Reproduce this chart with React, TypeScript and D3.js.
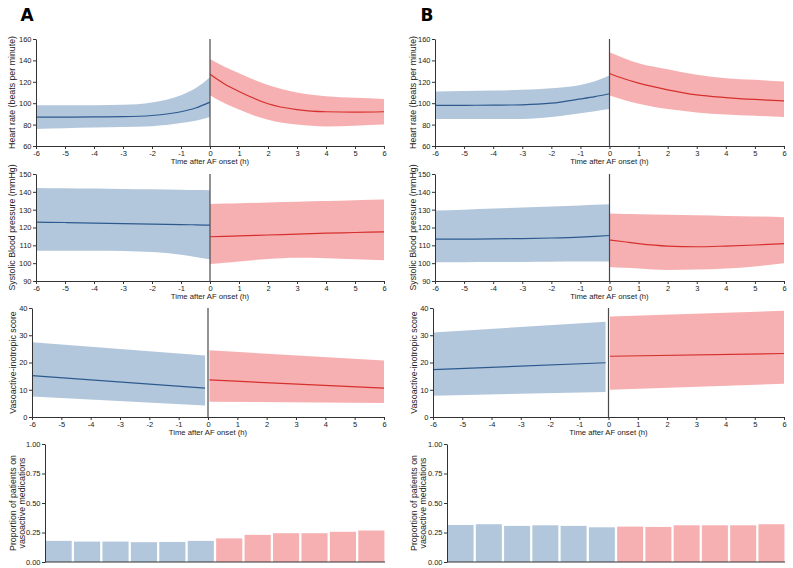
import { useEffect, useRef } from "react"
import * as d3 from "d3"

// time points (hours after AF onset)
const hoursPre = [-6, -5, -4, -3, -2, -1, -0.5, 0]
const hoursPost = [0, 0.5, 1, 2, 3, 4, 5, 6]
const visHoursPre = [-6, -0.1]
const visHoursPost = [0.05, 6]
const xTicks = [-6, -5, -4, -3, -2, -1, 0, 1, 2, 3, 4, 5, 6]

// Panel A - heart rate
const hrA_preMean = [87, 87, 87.2, 87.4, 88.5, 92, 95.5, 101]
const hrA_preLo = [76, 76.7, 77.3, 77.8, 78.5, 81.4, 83.6, 87]
const hrA_preHi = [98, 98, 98.2, 98.5, 100.7, 107.5, 114, 124.3]
const hrA_postMean = [127, 118, 111, 99.5, 94, 92, 91.7, 92]
const hrA_postLo = [107.5, 100, 94, 84.5, 80, 78.3, 79, 80]
const hrA_postHi = [141.4, 134, 128, 117, 110, 106.5, 105, 104]

// Panel A - systolic BP
const sbpA_preMean = [123, 122.8, 122.5, 122.2, 121.9, 121.6, 121.5, 121.3]
const sbpA_preLo = [107, 107, 107, 106.8, 106.2, 104.7, 103.5, 102.2]
const sbpA_preHi = [142.2, 142, 141.8, 141.6, 141.4, 141.2, 141, 140.9]
const sbpA_postMean = [114.8, 115, 115.3, 115.8, 116.3, 116.8, 117.2, 117.6]
const sbpA_postLo = [99.5, 100.2, 101, 102.3, 103, 102.8, 102.2, 101.6]
const sbpA_postHi = [133.2, 133.4, 133.6, 134, 134.4, 134.8, 135.3, 135.7]

// Panel A - vasoactive-inotropic score
const visA_preMean = [15.2, 10.6]
const visA_preLo = [7.5, 4.2]
const visA_preHi = [27.4, 22.6]
const visA_postMean = [13.6, 10.6]
const visA_postLo = [5.6, 5.1]
const visA_postHi = [24.5, 20.7]

// Panel A - proportion on vasoactive medications
const medsA = [0.179, 0.173, 0.173, 0.168, 0.17, 0.179, 0.2, 0.23, 0.244, 0.244, 0.256, 0.267]

// Panel B - heart rate
const hrB_preMean = [97.9, 98, 98.2, 98.5, 100, 104, 106.2, 108.8]
const hrB_preLo = [85.2, 85.2, 85.2, 85.2, 87, 90.7, 92.5, 94.5]
const hrB_preHi = [110.9, 111.3, 111.8, 112.5, 114, 117, 120.5, 125.8]
const hrB_postMean = [127.7, 122.8, 118.7, 112.5, 107.8, 105.3, 103.5, 102.2]
const hrB_postLo = [107.2, 103, 99.4, 94.5, 91.4, 89.5, 88.3, 87]
const hrB_postHi = [147.6, 142, 137.3, 131.7, 126.5, 123.4, 121.8, 120.2]

// Panel B - systolic BP
const sbpB_preMean = [113.5, 113.5, 113.6, 113.8, 114.1, 114.6, 115, 115.5]
const sbpB_preLo = [100.5, 100.5, 100.6, 100.7, 100.8, 100.9, 101, 101]
const sbpB_preHi = [129.5, 130, 130.6, 131.2, 131.8, 132.4, 132.7, 133]
const sbpB_postMean = [113, 112, 111, 109.6, 109.2, 109.6, 110.2, 111]
const sbpB_postLo = [97.9, 97.4, 97, 96.2, 96.4, 97, 98.2, 99.9]
const sbpB_postHi = [127.8, 127.6, 127.5, 127.1, 126.8, 126.5, 126.2, 125.8]

// Panel B - vasoactive-inotropic score
const visB_preMean = [17.4, 19.9]
const visB_preLo = [7.8, 9.2]
const visB_preHi = [31, 35]
const visB_postMean = [22.3, 23.3]
const visB_postLo = [10, 12.2]
const visB_postHi = [36.9, 39]

// Panel B - proportion on vasoactive medications
const medsB = [0.314, 0.32, 0.306, 0.311, 0.306, 0.294, 0.3, 0.297, 0.311, 0.311, 0.311, 0.32]

const barSlots = d3.range(12).map(String)

const FONT = "'Liberation Sans', Arial, sans-serif"
const BLUE_FILL = "#b3c7dc"
const BLUE_LINE = "#2c5a8e"
const RED_FILL = "#f7b0b1"
const RED_LINE = "#d5302d"
const AXIS = "#333"
const TICK_FS = 7.5
const XTITLE_FS = 7.7
const YTITLE_FS = 8.8

type Seg = { t: number[]; mean: number[]; lo: number[]; hi: number[] }

interface LinePanel {
  x: [number, number]
  y: [number, number]
  domain: [number, number]
  yTicks: number[]
  title: string
  titleX: number
  pre: Seg
  post: Seg
  curve: d3.CurveFactory
}

function styleAxis(g: d3.Selection<SVGGElement, unknown, null, undefined>) {
  g.selectAll("path, line").attr("stroke", AXIS).attr("stroke-width", 1)
  g.selectAll("text").attr("font-family", FONT).attr("font-size", TICK_FS).attr("fill", "#222")
}

function drawLinePanel(svg: d3.Selection<SVGSVGElement, unknown, null, undefined>, p: LinePanel) {
  const x = d3.scaleLinear().domain([-6, 6]).range(p.x)
  const y = d3.scaleLinear().domain(p.domain).range([p.y[1], p.y[0]])
  const g = svg.append("g")

  const segs: [Seg, string, string][] = [
    [p.pre, BLUE_FILL, BLUE_LINE],
    [p.post, RED_FILL, RED_LINE],
  ]
  segs.forEach(([s, fill, stroke]) => {
    const pts = s.t.map((t, i) => ({ t, m: s.mean[i], lo: s.lo[i], hi: s.hi[i] }))
    const area = d3
      .area<{ t: number; lo: number; hi: number }>()
      .x((d) => x(d.t))
      .y0((d) => y(d.lo))
      .y1((d) => y(d.hi))
      .curve(p.curve)
    const line = d3
      .line<{ t: number; m: number }>()
      .x((d) => x(d.t))
      .y((d) => y(d.m))
      .curve(p.curve)
    g.append("path").datum(pts).attr("d", area).attr("fill", fill)
    g.append("path").datum(pts).attr("d", line).attr("fill", "none").attr("stroke", stroke).attr("stroke-width", 1.2)
  })

  // onset marker
  g.append("line")
    .attr("x1", x(0))
    .attr("x2", x(0))
    .attr("y1", p.y[0])
    .attr("y2", p.y[1])
    .attr("stroke", "#4a4a4a")
    .attr("stroke-width", 1.2)

  const ax = g
    .append("g")
    .attr("transform", `translate(0,${p.y[1]})`)
    .call(
      d3
        .axisBottom(x)
        .tickValues(xTicks)
        .tickSize(3)
        .tickPadding(1.5)
        .tickSizeOuter(0)
        .tickFormat((d) => String(d))
    )
  styleAxis(ax)

  const ay = g
    .append("g")
    .attr("transform", `translate(${p.x[0]},0)`)
    .call(d3.axisLeft(y).tickValues(p.yTicks).tickSize(3).tickPadding(1.5).tickSizeOuter(0))
  styleAxis(ay)

  g.append("text")
    .attr("x", (p.x[0] + p.x[1]) / 2)
    .attr("y", p.y[1] + 17.5)
    .attr("text-anchor", "middle")
    .attr("font-family", FONT)
    .attr("font-size", XTITLE_FS)
    .attr("fill", "#222")
    .text("Time after AF onset (h)")

  g.append("text")
    .attr("transform", `translate(${p.titleX},${(p.y[0] + p.y[1]) / 2}) rotate(-90)`)
    .attr("text-anchor", "middle")
    .attr("dy", "0.35em")
    .attr("font-family", FONT)
    .attr("font-size", YTITLE_FS)
    .attr("fill", "#222")
    .text(p.title)
}

function drawBars(
  svg: d3.Selection<SVGSVGElement, unknown, null, undefined>,
  values: number[],
  xr: [number, number],
  yr: [number, number],
  titleX: [number, number]
) {
  const x = d3.scaleBand().domain(barSlots).range(xr).paddingInner(0.08).paddingOuter(0.02)
  const y = d3.scaleLinear().domain([0, 1]).range([yr[1], yr[0]])
  const g = svg.append("g")
  g.selectAll("rect")
    .data(values)
    .enter()
    .append("rect")
    .attr("x", (_, i) => x(barSlots[i]) as number)
    .attr("width", x.bandwidth())
    .attr("y", (d) => y(d))
    .attr("height", (d) => y(0) - y(d))
    .attr("fill", (_, i) => (i < 6 ? BLUE_FILL : RED_FILL))

  g.append("line")
    .attr("x1", xr[0])
    .attr("x2", xr[1])
    .attr("y1", y(0))
    .attr("y2", y(0))
    .attr("stroke", AXIS)

  const ay = g
    .append("g")
    .attr("transform", `translate(${xr[0]},0)`)
    .call(
      d3
        .axisLeft(y)
        .tickValues([0, 0.25, 0.5, 0.75, 1])
        .tickFormat(d3.format(".2f"))
        .tickSize(3)
        .tickPadding(1.5)
        .tickSizeOuter(0)
    )
  styleAxis(ay)

  const midY = (yr[0] + yr[1]) / 2
  ;["Proportion of patients on", "vasoactive medications"].forEach((t, i) => {
    g.append("text")
      .attr("transform", `translate(${titleX[i]},${midY}) rotate(-90)`)
      .attr("text-anchor", "middle")
      .attr("dy", "0.35em")
      .attr("font-family", FONT)
      .attr("font-size", YTITLE_FS)
      .attr("fill", "#222")
      .text(t)
  })
}

const seg = (t: number[], mean: number[], lo: number[], hi: number[]): Seg => ({ t, mean, lo, hi })

export default function App() {
  const ref = useRef<SVGSVGElement>(null)

  useEffect(() => {
    if (!ref.current) return
    const svg = d3.select(ref.current)
    svg.selectAll("*").remove()

    const cols = [
      {
        label: "A",
        labelX: 27,
        lineX: [36, 384] as [number, number],
        visX: [32, 384] as [number, number],
        barX: [45, 385] as [number, number],
        titleX: 12,
        visTitleX: 13,
        barTitleX: [13, 22] as [number, number],
        hr: [seg(hoursPre, hrA_preMean, hrA_preLo, hrA_preHi), seg(hoursPost, hrA_postMean, hrA_postLo, hrA_postHi)],
        sbp: [seg(hoursPre, sbpA_preMean, sbpA_preLo, sbpA_preHi), seg(hoursPost, sbpA_postMean, sbpA_postLo, sbpA_postHi)],
        vis: [seg(visHoursPre, visA_preMean, visA_preLo, visA_preHi), seg(visHoursPost, visA_postMean, visA_postLo, visA_postHi)],
        meds: medsA,
      },
      {
        label: "B",
        labelX: 427,
        lineX: [435, 784] as [number, number],
        visX: [433, 784] as [number, number],
        barX: [447, 785] as [number, number],
        titleX: 413,
        visTitleX: 414,
        barTitleX: [414, 423] as [number, number],
        hr: [seg(hoursPre, hrB_preMean, hrB_preLo, hrB_preHi), seg(hoursPost, hrB_postMean, hrB_postLo, hrB_postHi)],
        sbp: [seg(hoursPre, sbpB_preMean, sbpB_preLo, sbpB_preHi), seg(hoursPost, sbpB_postMean, sbpB_postLo, sbpB_postHi)],
        vis: [seg(visHoursPre, visB_preMean, visB_preLo, visB_preHi), seg(visHoursPost, visB_postMean, visB_postLo, visB_postHi)],
        meds: medsB,
      },
    ]

    cols.forEach((c) => {
      svg
        .append("text")
        .attr("x", c.labelX)
        .attr("y", 21)
        .attr("text-anchor", "middle")
        .attr("font-family", "'DejaVu Sans', sans-serif")
        .attr("font-weight", "bold")
        .attr("font-size", 17)
        .attr("fill", "#000")
        .text(c.label)

      drawLinePanel(svg, {
        x: c.lineX,
        y: [39, 146],
        domain: [60, 160],
        yTicks: [60, 80, 100, 120, 140, 160],
        title: "Heart rate (beats per minute)",
        titleX: c.titleX,
        pre: c.hr[0],
        post: c.hr[1],
        curve: d3.curveMonotoneX,
      })
      drawLinePanel(svg, {
        x: c.lineX,
        y: [174, 281],
        domain: [90, 150],
        yTicks: [90, 100, 110, 120, 130, 140, 150],
        title: "Systolic Blood pressure (mmHg)",
        titleX: c.titleX,
        pre: c.sbp[0],
        post: c.sbp[1],
        curve: d3.curveMonotoneX,
      })
      drawLinePanel(svg, {
        x: c.visX,
        y: [308, 417],
        domain: [0, 40],
        yTicks: [0, 10, 20, 30, 40],
        title: "Vasoactive-inotropic score",
        titleX: c.visTitleX,
        pre: c.vis[0],
        post: c.vis[1],
        curve: d3.curveLinear,
      })
      drawBars(svg, c.meds, c.barX, [444, 562], c.barTitleX)
    })
  }, [])

  return (
    <svg
      ref={ref}
      width={793}
      height={568}
      style={{ position: "absolute", left: 0, top: 0, background: "#fff" }}
    />
  )
}
